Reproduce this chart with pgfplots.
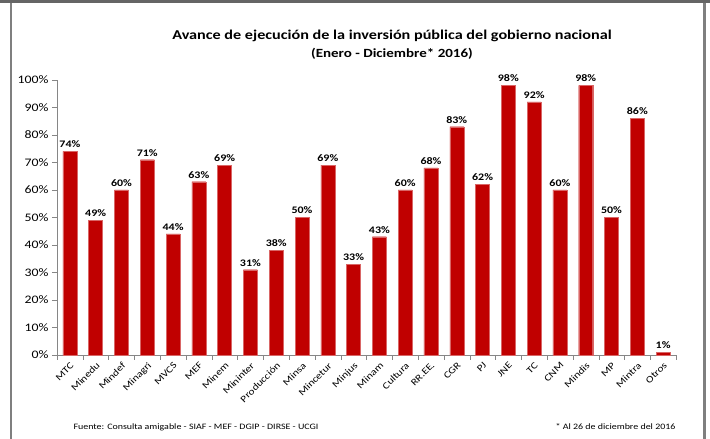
\documentclass[border=0pt]{standalone}
\usepackage{pgfplots}
\pgfplotsset{compat=1.18}
\usepackage{fontspec}
\setmainfont[FakeStretch=1.2]{Carlito}
\definecolor{barred}{HTML}{C00000}
\definecolor{axgray}{HTML}{868686}
\definecolor{framegray}{HTML}{7F7F7F}
\begin{document}
\begin{tikzpicture}
\useasboundingbox (0pt,0pt) rectangle (710pt,439pt);
\fill[framegray!80!black] (0pt,436pt) rectangle (710pt,439pt);
\fill[framegray] (10pt,0pt) rectangle (12pt,436pt);
\fill[framegray] (703pt,0pt) rectangle (706pt,436pt);
\node[font=\bfseries\fontsize{13.5}{16}\selectfont] at (392pt,403pt) {Avance de ejecución de la inversión pública del gobierno nacional};
\node[font=\bfseries\fontsize{12.5}{14}\selectfont] at (392pt,385pt) {(Enero - Diciembre* 2016)};
\node[font=\fontsize{8.3}{10}\selectfont, anchor=west] at (70pt,12pt) {Fuente: Consulta amigable - SIAF - MEF - DGIP - DIRSE - UCGI};
\node[font=\fontsize{8.3}{10}\selectfont, anchor=east] at (679pt,12pt) {* Al 26 de diciembre del 2016};
\begin{axis}[
  at={(57pt,84pt)}, anchor=south west,
  scale only axis, width=619pt, height=275pt,
  xmin=-0.5, xmax=23.5, ymin=0, ymax=100,
  axis x line*=bottom, axis y line*=left,
  axis line style={axgray, -},
  xtick={0,...,23},
  xticklabels={MTC,Minedu,Mindef,Minagri,MVCS,MEF,Minem,Mininter,Producción,Minsa,Mincetur,Minjus,Minam,Cultura,RR.EE.,CGR,PJ,JNE,TC,CNM,Mindis,MP,Mintra,Otros},
  major x tick style={draw=none},
  minor xtick={-0.5,0.5,...,23.5},
  minor x tick style={axgray},
  minor tick length=5pt,
  tick align=outside,
  ytick={0,10,...,100},
  y tick style={axgray},
  major tick length=5pt,
  yticklabel={\pgfmathprintnumber{\tick}\%},
  /pgf/number format/assume math mode=true,
  y tick label style={font=\fontsize{11.5}{13}\selectfont},
  x tick label style={font=\fontsize{9.5}{11}\selectfont, rotate=45, anchor=north east, inner sep=1pt},
  ybar, bar width=14pt,
  nodes near coords={\pgfmathprintnumber{\pgfplotspointmeta}\%},
  every node near coord/.append style={font=\bfseries\fontsize{10}{12}\selectfont, text=black, /pgf/number format/assume math mode=true},
  clip=false,
]
\addplot[fill=barred, draw=barred!60!white, line width=0.4pt] table[x=x,y=y] {
x y
0 74
1 49
2 60
3 71
4 44
5 63
6 69
7 31
8 38
9 50
10 69
11 33
12 43
13 60
14 68
15 83
16 62
17 98
18 92
19 60
20 98
21 50
22 86
23 1
};
\end{axis}
\end{tikzpicture}
\end{document}
